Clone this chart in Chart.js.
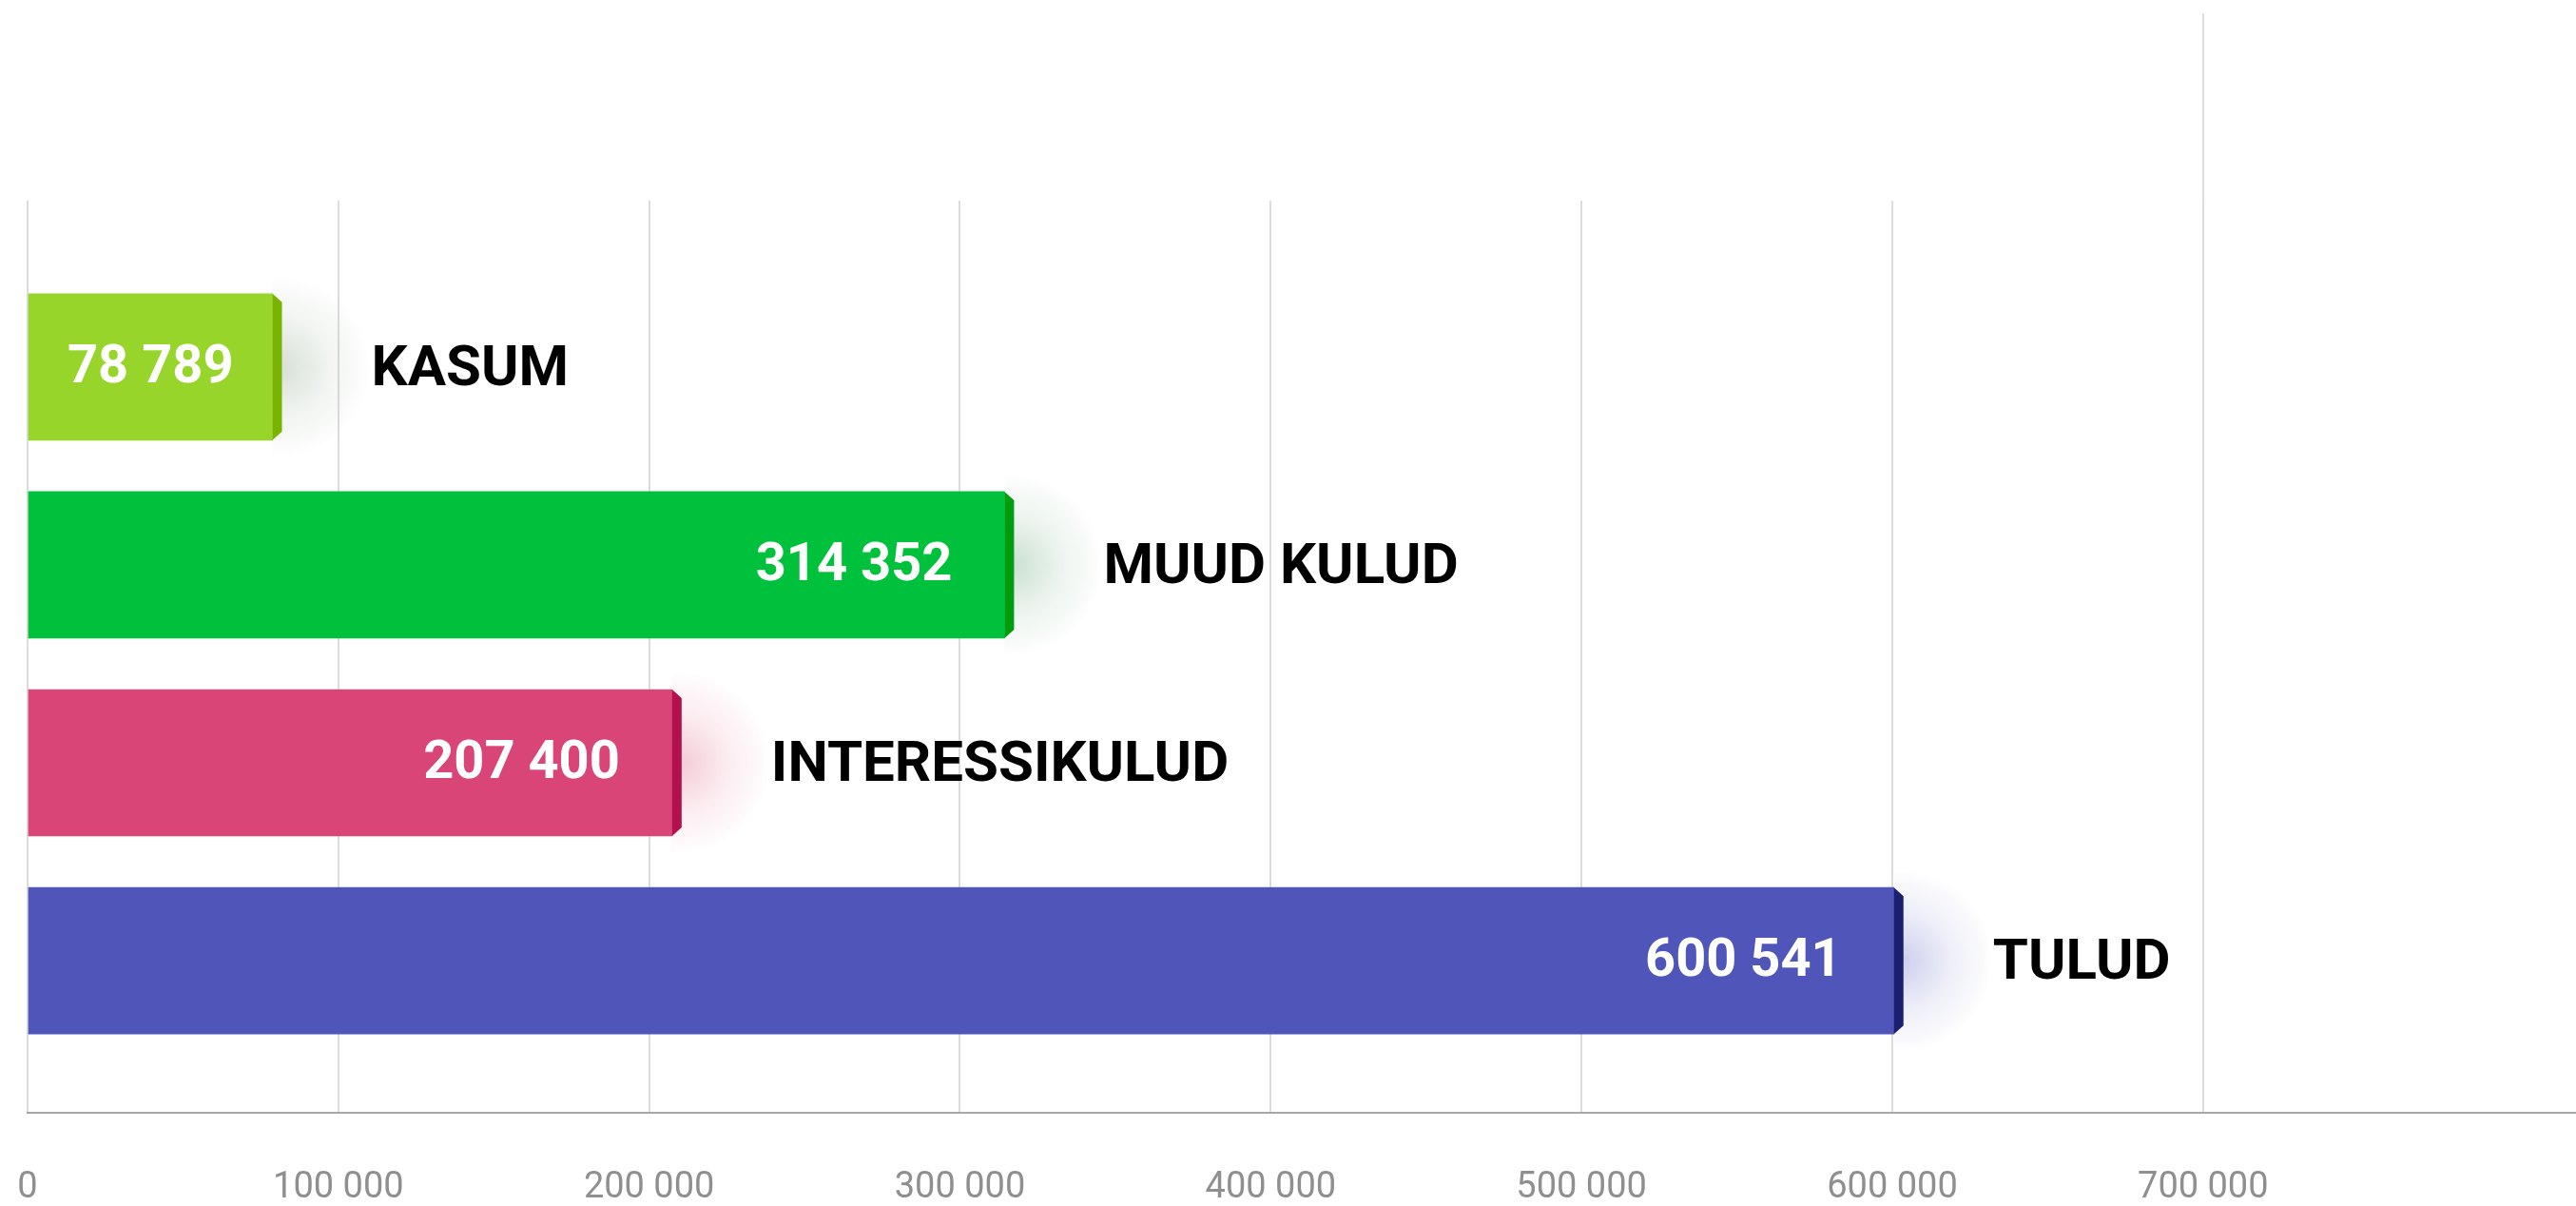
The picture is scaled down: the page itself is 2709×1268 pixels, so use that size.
<!DOCTYPE html>
<html>
<head>
<meta charset="utf-8">
<script src="https://cdn.jsdelivr.net/npm/chart.js@4.4.1/dist/chart.umd.min.js"></script>
<style>
  html, body { margin: 0; padding: 0; background: #fff; }
  #wrap { width: 2709px; height: 1268px; }
</style>
</head>
<body>
<div id="wrap"><canvas id="barChart" width="2709" height="1268"></canvas></div>
<script>
// data
const categories = ['KASUM', 'MUUD KULUD', 'INTERESSIKULUD', 'TULUD'];
const values = [78789, 314352, 207400, 600541];
const tickValues = [0, 100000, 200000, 300000, 400000, 500000, 600000, 700000];

// colours
const barColors = ['#97d52a', '#00c13b', '#da4577', '#5055ba'];
const edgeColors = ['#78b400', '#009c10', '#b3114e', '#1b1f70'];
const glowColors = ['120,150,120', '80,150,100', '220,80,120', '90,95,190'];

function fmt(v) {
    return String(v).replace(/\B(?=(\d{3})+(?!\d))/g, ' ');
}

// soft glow behind the bar ends
const glowPlugin = {
    id: 'glow',
    beforeDatasetsDraw(chart) {
        const ctx = chart.ctx;
        const meta = chart.getDatasetMeta(0);
        meta.data.forEach((bar, i) => {
            const r = bar.height / 2 + 18;
            const cx = bar.x + 8;
            const g = ctx.createRadialGradient(cx, bar.y, 0, cx, bar.y, r);
            g.addColorStop(0, 'rgba(' + glowColors[i] + ',0.30)');
            g.addColorStop(0.55, 'rgba(' + glowColors[i] + ',0.10)');
            g.addColorStop(0.9, 'rgba(' + glowColors[i] + ',0.03)');
            g.addColorStop(1, 'rgba(' + glowColors[i] + ',0)');
            ctx.save();
            ctx.fillStyle = g;
            ctx.beginPath();
            ctx.rect(bar.x, bar.y - r, r + 12, 2 * r);
            ctx.fill();
            ctx.restore();
        });
    }
};

// bevelled end, value and category labels
const labelPlugin = {
    id: 'barLabels',
    afterDatasetsDraw(chart) {
        const ctx = chart.ctx;
        const meta = chart.getDatasetMeta(0);
        meta.data.forEach((bar, i) => {
            const top = bar.y - bar.height / 2;
            const bottom = bar.y + bar.height / 2;
            const edge = 10;
            ctx.save();
            ctx.fillStyle = edgeColors[i];
            ctx.beginPath();
            ctx.moveTo(bar.x, top);
            ctx.lineTo(bar.x + edge, top + 9);
            ctx.lineTo(bar.x + edge, bottom - 9);
            ctx.lineTo(bar.x, bottom);
            ctx.closePath();
            ctx.fill();

            // value inside the bar
            ctx.font = 'bold 56px Roboto';
            ctx.fillStyle = '#ffffff';
            ctx.textBaseline = 'middle';
            ctx.textAlign = 'right';
            const txt = fmt(values[i]);
            const w = ctx.measureText(txt).width;
            const centred = bar.base + (bar.x - bar.base) / 2 + w / 2;
            const tx = Math.max(bar.x - 55, centred);
            ctx.fillText(txt, tx, bar.y + 2);

            // category name
            ctx.font = 'bold 60px Roboto';
            ctx.fillStyle = '#000000';
            ctx.textAlign = 'left';
            ctx.fillText(categories[i], bar.x + 104, bar.y + 4);
            ctx.restore();
        });

        // stray tall grid line at 700 000
        const xs = chart.scales.x;
        const px = Math.round(xs.getPixelForValue(700000));
        ctx.save();
        ctx.strokeStyle = '#dddddd';
        ctx.lineWidth = 2;
        ctx.beginPath();
        ctx.moveTo(px, 14);
        ctx.lineTo(px, chart.chartArea.top);
        ctx.stroke();
        ctx.restore();
    }
};

const ctx = document.getElementById('barChart').getContext('2d');
const barChart = new Chart(ctx, {
    type: 'bar',
    data: {
        labels: categories,
        datasets: [{
            data: categories.map((c, i) => ({ x: values[i], y: i })),
            backgroundColor: barColors,
            borderWidth: 0,
            barThickness: 154
        }]
    },
    options: {
        indexAxis: 'y',
        responsive: false,
        animation: false,
        layout: {
            padding: { left: 29, right: 0, top: 211, bottom: -7 }
        },
        plugins: {
            legend: { display: false },
            tooltip: { enabled: false }
        },
        scales: {
            x: {
                type: 'linear',
                min: 0,
                max: 820000,
                afterBuildTicks: function(scale) {
                    scale.ticks = tickValues.map(v => ({ value: v }));
                },
                grid: {
                    color: '#dcdcdc',
                    lineWidth: 2,
                    drawTicks: true,
                    tickLength: 53,
                    tickColor: 'rgba(0,0,0,0)'
                },
                border: {
                    color: '#a8a8a8',
                    width: 2
                },
                ticks: {
                    font: { family: 'Roboto', size: 38 },
                    color: '#8f8f8f',
                    padding: 3,
                    maxRotation: 0,
                    autoSkip: false,
                    callback: function(v) { return fmt(v); }
                }
            },
            y: {
                type: 'linear',
                min: -0.84,
                max: 3.77,
                reverse: true,
                offset: false,
                display: false
            }
        }
    },
    plugins: [glowPlugin, labelPlugin]
});
</script>
</body>
</html>
